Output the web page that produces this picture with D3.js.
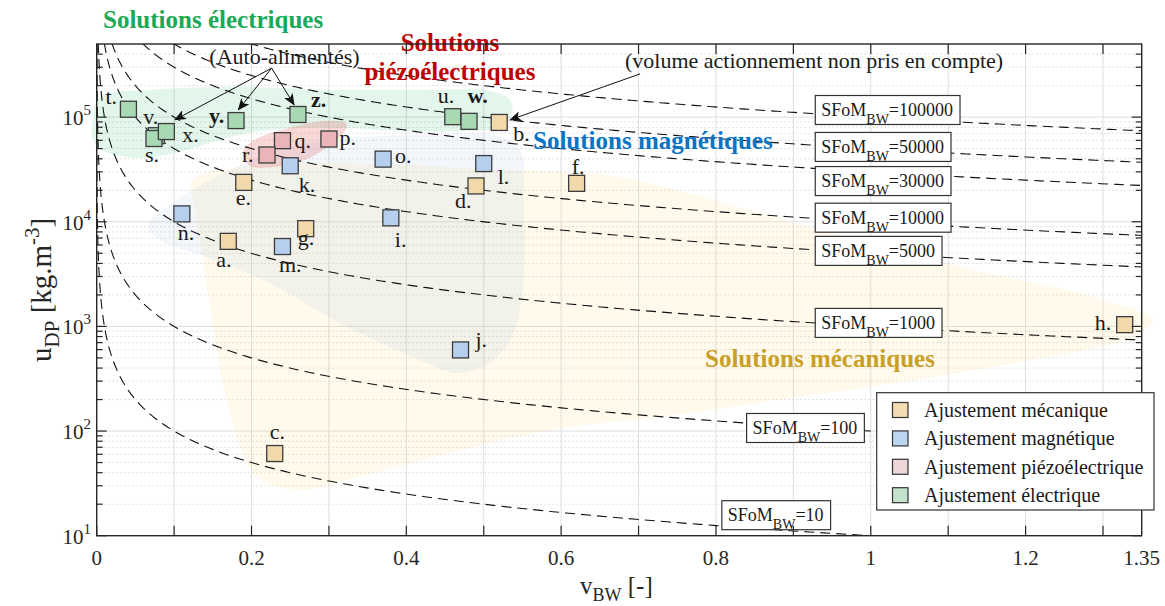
<!DOCTYPE html>
<html><head><meta charset="utf-8">
<script src="https://cdn.jsdelivr.net/npm/d3@7"></script>
<style>
body{margin:0;background:#fff}
svg{display:block}
text{font-family:"Liberation Serif","Times New Roman",serif;fill:#222}
</style>
</head><body>
<svg id="c" width="1165" height="606"></svg>
<script>
// ---------------- DATA ----------------
const categories = ["Ajustement mécanique","Ajustement magnétique","Ajustement piézoélectrique","Ajustement électrique"];

const mecaNames = ["a","b","c","d","e","f","g","h"];
const mecaV     = [0.17, 0.52, 0.23, 0.49, 0.19, 0.62, 0.27, 1.328];
const mecaU     = [6500, 89000, 61, 22000, 23800, 23300, 8600, 1040];

const magNames  = ["i","j","k","l","m","n","o"];
const magV      = [0.38, 0.47, 0.25, 0.50, 0.24, 0.11, 0.37];
const magU      = [10900, 596, 34300, 36000, 5800, 11900, 39700];

const piezoNames = ["p","q","r"];
const piezoV     = [0.30, 0.24, 0.22];
const piezoU     = [61800, 59600, 43500];

const elecNames = ["t","v","s","x","y","z","u","w"];
const elecV     = [0.041, 0.077, 0.074, 0.090, 0.180, 0.260, 0.460, 0.481];
const elecU     = [119000, 66500, 62500, 72800, 92700, 106000, 101000, 91200];
const boldNames = ["y","z","w"];

const sfomValues = [10, 100, 1000, 5000, 10000, 30000, 50000, 100000];

const xTickValues = [0,0.1,0.2,0.3,0.4,0.5,0.6,0.7,0.8,0.9,1.0,1.1,1.2,1.3,1.35];
const xTickLabels = ["0","","0.2","","0.4","","0.6","","0.8","","1","","1.2","","1.35"];
const yTickValues = [10,100,1000,10000,100000];
const yTickExp    = ["1","2","3","4","5"];

// shaded solution regions (v, u)
const regionMeca = [[0.124,25200],[0.185,33500],[0.272,36600],[0.401,35000],[0.521,31300],[0.573,30700],[0.675,26800],[0.828,13900],[0.981,6710],[1.134,3470],[1.287,1910],[1.364,1150],[1.338,794],[1.185,448],[1.032,288],[0.879,198],[0.726,136],[0.585,102],[0.421,53],[0.323,34.1],[0.266,27.4],[0.207,36.4],[0.181,87.9],[0.162,308],[0.149,1150],[0.137,4320],[0.127,13000]];
const regionMag = [[0.066,9330],[0.099,15200],[0.124,20200],[0.172,31300],[0.237,48600],[0.301,60700],[0.418,67800],[0.521,64800],[0.547,48600],[0.552,16200],[0.549,1790],[0.534,743],[0.508,448],[0.465,359],[0.418,477],[0.314,1080],[0.228,2490],[0.142,4610],[0.082,6710]];
const regionElec = [[-0.005,94200],[0.004,156000],[0.069,182000],[0.185,195000],[0.301,182000],[0.418,182000],[0.508,178000],[0.534,146000],[0.536,105000],[0.521,80700],[0.482,73900],[0.392,73900],[0.301,79100],[0.211,73900],[0.159,60700],[0.108,46600],[0.056,40800],[0.011,46600],[-0.005,60700]];
const regionPiezo = [[0.189,46600],[0.204,60700],[0.250,79100],[0.295,92300],[0.323,86300],[0.317,67800],[0.275,40800],[0.230,33500],[0.198,34300]];

// ---------------- LAYOUT ----------------
const X = d3.scaleLinear().domain([0,1.35]).range([96.7,1141.7]);
const Y = d3.scaleLog().domain([10,5e5]).range([535.7,44]);
const pTop = Y(5e5), pBot = Y(10), pLft = X(0), pRgt = X(1.35);

const sfomBoxPos = { // left v, centre u of each iso-line label
  10:[0.8076,15.7],100:[0.8396,107],1000:[0.9283,1080],5000:[0.9283,5270],
  10000:[0.9283,10940],30000:[0.9283,24500],50000:[0.9283,51900],100000:[0.9283,117000]};

const labelOff = {a:[-12,25.5],b:[14,19],c:[-5,-15],d:[-21,22.5],e:[-8,22.5],f:[-5,-9],g:[-8,16],h:[-30,5],
  i:[4,29],j:[15,-3],k:[8.5,26],l:[14,20],m:[-3.5,25],n:[-4,26],o:[12,4],
  p:[10.5,6],q:[12,7.5],r:[-25,7.5],
  s:[-9,23.7],t:[-23,-5],u:[-15,-13.5],v:[-13,-12],w:[-1.5,-18],x:[16,10],y:[-27,2.5],z:[13,-7]};

const fillPlot  = ["#f2d9ab","#b6cfee","#eab5b8","#a9d8b4"];
const fillLeg   = ["#f3dcb3","#bcd5f1","#ecd6d7","#c3e2ca"];

const svg = d3.select("#c");
const defs = svg.append("defs");
defs.append("clipPath").attr("id","pc").append("rect")
  .attr("x",pLft).attr("y",pTop).attr("width",pRgt-pLft).attr("height",pBot-pTop);
defs.append("marker").attr("id","ar").attr("viewBox","0 0 12 10").attr("refX",11).attr("refY",5)
  .attr("markerWidth",12).attr("markerHeight",10).attr("markerUnits","userSpaceOnUse").attr("orient","auto")
  .append("path").attr("d","M0,0 L12,5 L0,10 L3,5 Z").attr("fill","#111");

// ---------------- GRID ----------------
const gGrid = svg.append("g");
gGrid.selectAll("line.v").data(d3.range(1,14).map(i=>i/10)).join("line")
  .attr("x1",d=>X(d)).attr("x2",d=>X(d)).attr("y1",pTop).attr("y2",pBot)
  .attr("stroke","#dedede").attr("stroke-width",1);
const minorVals = [];
yTickValues.forEach(d=>{for(let k=2;k<=9;k++){const v=d*k; if(v<5e5) minorVals.push(v);}});
gGrid.selectAll("line.m").data(minorVals).join("line")
  .attr("x1",pLft).attr("x2",pRgt).attr("y1",d=>Y(d)).attr("y2",d=>Y(d))
  .attr("stroke","#c4c4c4").attr("stroke-width",1).attr("stroke-dasharray","1,3");
gGrid.selectAll("line.h").data(yTickValues.slice(1)).join("line")
  .attr("x1",pLft).attr("x2",pRgt).attr("y1",d=>Y(d)).attr("y2",d=>Y(d))
  .attr("stroke","#dedede").attr("stroke-width",1);

// ---------------- REGIONS ----------------
const area = d3.line().x(d=>X(d[0])).y(d=>Y(d[1])).curve(d3.curveCatmullRomClosed.alpha(0.5));
const gReg = svg.append("g");
gReg.append("path").attr("d",area(regionMeca)).attr("fill","rgba(255,215,110,0.13)");
gReg.append("path").attr("d",area(regionMag)).attr("fill","rgba(120,165,225,0.09)");
gReg.append("path").attr("d",area(regionElec)).attr("fill","rgba(0,176,80,0.11)");
gReg.append("path").attr("d",area(regionPiezo)).attr("fill","rgba(225,60,60,0.2)");

// ---------------- ISO LINES ----------------
const gIso = svg.append("g").attr("clip-path","url(#pc)");
const iso = d3.line().x(d=>X(d[0])).y(d=>Y(d[1]));
sfomValues.forEach(S=>{
  const vmin = S/5e5*0.98;
  const pts = d3.range(0,401).map(i=>{const v=vmin*Math.pow(1.36/vmin,i/400); return [v,S/v];});
  gIso.append("path").attr("d",iso(pts)).attr("fill","none").attr("stroke","#111")
    .attr("stroke-width",1.1).attr("stroke-dasharray","10,6");
});

// ---------------- TITLES / ANNOTATIONS ----------------
const tt = (x,y,s,col,size,bold)=>svg.append("text").attr("x",x).attr("y",y).text(s)
  .style("fill",col).attr("font-size",size).attr("font-weight",bold?"bold":"normal");
tt(103,28,"Solutions électriques","#1aaa55",25,true);
tt(450,51,"Solutions","#c00000",25,true).attr("text-anchor","middle");
tt(450,80,"piézoélectriques","#c00000",25,true).attr("text-anchor","middle");
tt(533,149,"Solutions magnétiques","#0a74c4",25,true);
tt(705,367,"Solutions mécaniques","#c9a025",25,true);

tt(284.5,64,"(Auto-alimentés)","#1a1a1a",22,false).attr("text-anchor","middle");
tt(625,68,"(volume actionnement non pris en compte)","#1a1a1a",22,false);

const arrows = [ // [from v,u] -> [to v,u]
  [[0.226,294000],[0.101,94200]],
  [[0.226,294000],[0.183,117500]],
  [[0.226,294000],[0.255,131000]],
  [[0.702,259000],[0.534,94200]]];
svg.append("g").selectAll("line").data(arrows).join("line")
  .attr("x1",d=>X(d[0][0])).attr("y1",d=>Y(d[0][1])).attr("x2",d=>X(d[1][0])).attr("y2",d=>Y(d[1][1]))
  .attr("stroke","#111").attr("stroke-width",1).attr("marker-end","url(#ar)");

// ---------------- ISO LABEL BOXES ----------------
const gBox = svg.append("g");
sfomValues.forEach(S=>{
  const [bv,bu] = sfomBoxPos[S];
  const bx = X(bv), cy = Y(bu);
  const g = gBox.append("g");
  const r = g.append("rect").attr("fill","#fff").attr("stroke","#333").attr("stroke-width",1.2);
  const t = g.append("text").attr("x",bx+6).attr("y",cy+6).attr("font-size",18).style("fill","#1a1a1a");
  t.append("tspan").text("SFoM");
  t.append("tspan").attr("font-size",14).attr("dy",8).text("BW");
  t.append("tspan").attr("dy",-8).text("="+S);
  const w = t.node().getComputedTextLength();
  r.attr("x",bx).attr("y",cy-14.5).attr("width",w+13).attr("height",29);
});

// ---------------- SQUARES ----------------
const groups = [
  {names:mecaNames,v:mecaV,u:mecaU,c:0},
  {names:magNames,v:magV,u:magU,c:1},
  {names:piezoNames,v:piezoV,u:piezoU,c:2},
  {names:elecNames,v:elecV,u:elecU,c:3}];
const sz = 16;
const gPts = svg.append("g");
groups.forEach(gr=>{
  const pts = gr.names.map((n,i)=>({n,v:gr.v[i],u:gr.u[i]}));
  gPts.append("g").selectAll("rect").data(pts).join("rect")
    .attr("x",d=>X(d.v)-sz/2).attr("y",d=>Y(d.u)-sz/2).attr("width",sz).attr("height",sz)
    .attr("fill",fillPlot[gr.c]).attr("stroke","#3c3c3c").attr("stroke-width",1.3);
  gPts.append("g").selectAll("text").data(pts).join("text")
    .attr("x",d=>X(d.v)+labelOff[d.n][0]).attr("y",d=>Y(d.u)+labelOff[d.n][1])
    .attr("font-size",22).attr("font-weight",d=>boldNames.includes(d.n)?"bold":"normal")
    .style("fill","#1a1a1a").text(d=>d.n+".");
});

// ---------------- AXES ----------------
const ax = svg.append("g");
ax.append("rect").attr("x",pLft).attr("y",pTop).attr("width",pRgt-pLft).attr("height",pBot-pTop)
  .attr("fill","none").attr("stroke","#262626").attr("stroke-width",1.4);
xTickValues.slice(0,-1).forEach(v=>{
  ax.append("line").attr("x1",X(v)).attr("x2",X(v)).attr("y1",pBot).attr("y2",pBot-10).attr("stroke","#262626").attr("stroke-width",1.2);
  ax.append("line").attr("x1",X(v)).attr("x2",X(v)).attr("y1",pTop).attr("y2",pTop+10).attr("stroke","#262626").attr("stroke-width",1.2);
});
ax.selectAll("text.xt").data(xTickValues.map((v,i)=>({v,l:xTickLabels[i]})).filter(d=>d.l!==""))
  .join("text").attr("x",d=>X(d.v)).attr("y",565).attr("text-anchor","middle")
  .attr("font-size",21).style("fill","#262626").text(d=>d.l);
yTickValues.concat(minorVals).forEach(u=>{
  const L = yTickValues.includes(u)?10:6;
  ax.append("line").attr("x1",pLft).attr("x2",pLft+L).attr("y1",Y(u)).attr("y2",Y(u)).attr("stroke","#262626").attr("stroke-width",1.2);
  ax.append("line").attr("x1",pRgt).attr("x2",pRgt-L).attr("y1",Y(u)).attr("y2",Y(u)).attr("stroke","#262626").attr("stroke-width",1.2);
});
yTickValues.forEach((u,i)=>{
  const t = ax.append("text").attr("x",91).attr("y",Y(u)+8).attr("text-anchor","end").attr("font-size",21).style("fill","#262626");
  t.append("tspan").text("10");
  t.append("tspan").attr("font-size",15).attr("dy",-10).text(yTickExp[i]);
});

// axis titles
const xl = ax.append("text").attr("x",580).attr("y",594).attr("font-size",25).style("fill","#262626");
xl.append("tspan").text("v");
xl.append("tspan").attr("font-size",18).attr("dy",7).text("BW");
xl.append("tspan").attr("dy",-7).text(" [-]");
const yl = ax.append("text").attr("transform",`translate(51,${(pTop+pBot)/2}) rotate(-90)`)
  .attr("text-anchor","middle").attr("font-size",29).style("fill","#262626");
yl.append("tspan").text("u");
yl.append("tspan").attr("font-size",21).attr("dy",8).text("DP");
yl.append("tspan").attr("dy",-8).text(" [kg.m");
yl.append("tspan").attr("font-size",21).attr("dy",-12).text("-3");
yl.append("tspan").attr("dy",12).text("]");

// ---------------- LEGEND ----------------
const lg = svg.append("g");
lg.append("rect").attr("x",876.7).attr("y",392.7).attr("width",277.3).attr("height",117.3)
  .attr("fill","#fff").attr("stroke","#333").attr("stroke-width",1.2);
categories.forEach((c,i)=>{
  const cy = 410 + i*28.4;
  lg.append("rect").attr("x",892.5).attr("y",cy-7.5).attr("width",15.5).attr("height",15)
    .attr("fill",fillLeg[i]).attr("stroke","#333").attr("stroke-width",1.2);
  lg.append("text").attr("x",924).attr("y",cy+7).attr("font-size",20).style("fill","#1a1a1a").text(c);
});
</script>
</body></html>
